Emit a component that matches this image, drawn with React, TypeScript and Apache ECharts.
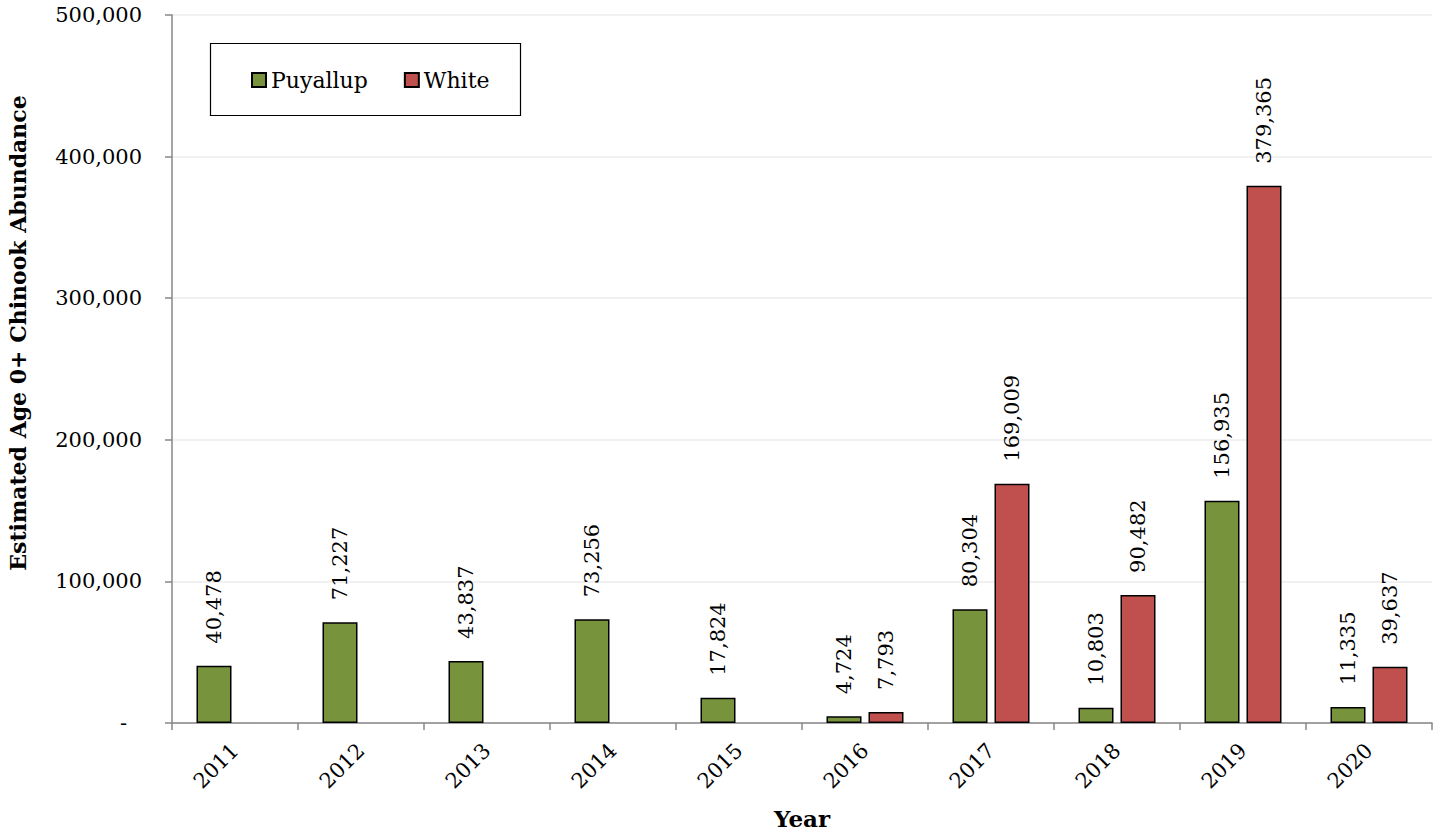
import React, { useEffect, useRef } from "react";
import * as echarts from "echarts";

const years = ["2011", "2012", "2013", "2014", "2015", "2016", "2017", "2018", "2019", "2020"];
const puyallup = [40478, 71227, 43837, 73256, 17824, 4724, 80304, 10803, 156935, 11335];
const white: (number | null)[] = [null, null, null, null, null, 7793, 169009, 90482, 379365, 39637];
const yTicks = { min: 0, max: 500000, interval: 100000 };

const FONT = "DejaVu Serif";
const fmt = (v: number) => v.toLocaleString("en-US");

export default function App() {
  const ref = useRef<HTMLDivElement>(null);
  useEffect(() => {
    if (!ref.current) return;
    const chart = echarts.init(ref.current, undefined, { renderer: "svg" });
    const label = {
      show: true,
      position: "top",
      rotate: 90,
      align: "left",
      verticalAlign: "middle",
      distance: 22,
      fontFamily: FONT,
      fontSize: 21,
      color: "#000",
      formatter: (p: any) => fmt(p.value),
    };
    chart.setOption({
      animation: false,
      textStyle: { fontFamily: FONT },
      grid: { left: 172, right: 11, top: 15, bottom: 109, containLabel: false, outerBoundsMode: "none" },
      legend: {
        left: 246,
        top: 64,
        itemWidth: 14,
        itemHeight: 14,
        itemGap: 36,
        icon: "rect",
        textStyle: { fontFamily: FONT, fontSize: 22, color: "#000" },
        data: ["Puyallup", "White"],
      },
      graphic: [
        {
          type: "rect",
          shape: { x: 210.5, y: 43.5, width: 310, height: 72 },
          style: { fill: "none", stroke: "#000", lineWidth: 1.2 },
          z: 10,
        },
        {
          type: "text",
          x: 18,
          y: 333,
          rotation: Math.PI / 2,
          style: {
            text: "Estimated Age 0+ Chinook Abundance",
            fontFamily: FONT,
            fontWeight: "bold",
            fontSize: 22,
            fill: "#000",
            textAlign: "center",
            textVerticalAlign: "middle",
          },
        },
      ],
      xAxis: {
        type: "category",
        data: years,
        name: "Year",
        nameLocation: "middle",
        nameGap: 84,
        nameTextStyle: { fontFamily: FONT, fontWeight: "bold", fontSize: 23, color: "#000" },
        axisLine: { lineStyle: { color: "#878787", width: 1.5 } },
        axisTick: { show: true, length: 7, lineStyle: { color: "#878787", width: 1.5 } },
        axisLabel: { rotate: 45, margin: 24, fontFamily: FONT, fontSize: 21, color: "#000" },
      },
      yAxis: {
        type: "value",
        min: yTicks.min,
        max: yTicks.max,
        interval: yTicks.interval,
        axisLine: { show: true, lineStyle: { color: "#878787", width: 1.5 } },
        axisTick: { show: true, length: 7, lineStyle: { color: "#878787", width: 1.5 } },
        splitLine: { lineStyle: { color: "#ececec", width: 1.5 } },
        axisLabel: {
          margin: 30,
          fontFamily: FONT,
          fontSize: 21,
          color: "#000",
          formatter: (v: number) => (v === 0 ? "{d|-}" : fmt(v)),
          rich: { d: { fontFamily: FONT, fontSize: 21, color: "#000", padding: [0, 15, 0, 0] } },
        },
      },
      series: [
        {
          name: "Puyallup",
          type: "bar",
          data: puyallup,
          barWidth: 35,
          barGap: "20%",
          itemStyle: { color: "#77933C", borderColor: "#000", borderWidth: 1.5 },
          label,
        },
        {
          name: "White",
          type: "bar",
          data: white,
          barWidth: 35,
          barGap: "20%",
          itemStyle: { color: "#C0504D", borderColor: "#000", borderWidth: 1.5 },
          label,
        },
      ],
    });
    return () => chart.dispose();
  }, []);
  return (
    <div
      ref={ref}
      style={{ position: "fixed", left: 0, top: 0, width: 1443, height: 832, background: "#fff" }}
    />
  );
}
